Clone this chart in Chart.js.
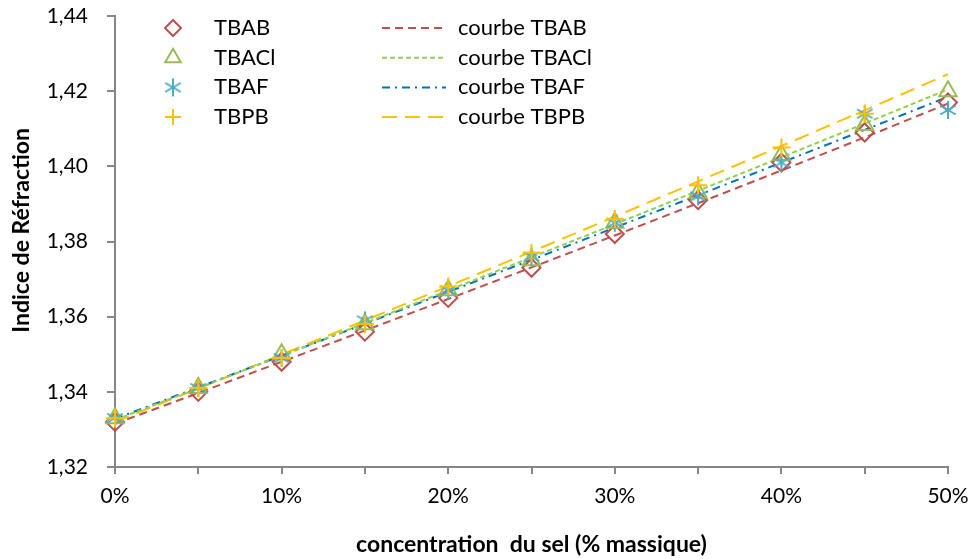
<!DOCTYPE html>
<html>
<head>
<meta charset="utf-8">
<script src="https://cdn.jsdelivr.net/npm/chart.js@4/dist/chart.umd.min.js"></script>
<style>
  body { margin: 0; background: #fff; }
</style>
</head>
<body>
<canvas id="chart" width="975" height="559"></canvas>
<script>
// concentration du sel (% massique)
const concentrations = [0, 5, 10, 15, 20, 25, 30, 35, 40, 45, 50];
const xTicks = [0, 10, 20, 30, 40, 50];

// mesures
const tbab  = [1.332, 1.340, 1.348, 1.356, 1.365, 1.373, 1.382, 1.391, 1.401, 1.409, 1.417];
const tbacl = [1.333, 1.341, 1.350, 1.358, 1.367, 1.375, 1.385, 1.393, 1.403, 1.411, 1.420];
const tbaf  = [1.333, 1.341, 1.349, 1.359, 1.367, 1.376, 1.385, 1.392, 1.401, 1.414, 1.415];
const tbpb  = [1.333, 1.341, 1.349, 1.358, 1.368, 1.377, 1.386, 1.395, 1.405, 1.414, null];

// courbes de tendance
const courbeTbab  = [1.3315, 1.3397, 1.3480, 1.3563, 1.3647, 1.3731, 1.3816, 1.3902, 1.3989, 1.4077, 1.4167];
const courbeTbacl = [1.3325, 1.3410, 1.3496, 1.3583, 1.3670, 1.3758, 1.3846, 1.3935, 1.4024, 1.4114, 1.4205];
const courbeTbaf  = [1.3328, 1.3412, 1.3496, 1.3581, 1.3666, 1.3751, 1.3837, 1.3923, 1.4010, 1.4097, 1.4185];
const courbeTbpb  = [1.3320, 1.3409, 1.3499, 1.3590, 1.3681, 1.3773, 1.3866, 1.3960, 1.4054, 1.4149, 1.4245];

const yTicks = [1.32, 1.34, 1.36, 1.38, 1.40, 1.42, 1.44];

const axisGrey = '#868686';
const fontFamily = 'Lato, "Liberation Sans", sans-serif';

const toPoints = arr => concentrations.map((c, i) => ({ x: c, y: arr[i] }));

// asterisk marker (vertical bar + X), like the spreadsheet one
function makeAsterisk(color, r) {
    const c = document.createElement('canvas');
    c.width = c.height = 2 * r + 4;
    const ctx = c.getContext('2d');
    ctx.strokeStyle = color;
    ctx.lineWidth = 2;
    const m = r + 2;
    [90, 30, 150].forEach(a => {
        const dx = Math.cos(a * Math.PI / 180) * r;
        const dy = Math.sin(a * Math.PI / 180) * r;
        ctx.beginPath();
        ctx.moveTo(m - dx, m - dy);
        ctx.lineTo(m + dx, m + dy);
        ctx.stroke();
    });
    return c;
}
const asterisk = makeAsterisk('#4BACC6', 9);

const markers = [
    { label: 'TBAB',  data: tbab,  color: '#C0504D', style: 'rectRot',  radius: 9 },
    { label: 'TBACl', data: tbacl, color: '#9BBB59', style: 'triangle', radius: 10 },
    { label: 'TBAF',  data: tbaf,  color: '#4BACC6', style: asterisk,   radius: 9 },
    { label: 'TBPB',  data: tbpb,  color: '#FFC000', style: 'cross',    radius: 9 }
];
const curves = [
    { label: 'courbe TBAB',  data: courbeTbab,  color: '#C0504D', dash: [8, 5] },
    { label: 'courbe TBACl', data: courbeTbacl, color: '#92D050', dash: [5, 3] },
    { label: 'courbe TBAF',  data: courbeTbaf,  color: '#0070C0', dash: [8, 5, 2, 5] },
    { label: 'courbe TBPB',  data: courbeTbpb,  color: '#FFC000', dash: [15, 8] }
];

const datasets = [];
markers.forEach((m, i) => datasets.push({
    label: m.label,
    data: toPoints(m.data),
    showLine: false,
    pointStyle: m.style,
    pointRadius: m.radius,
    pointBorderWidth: 2,
    pointBorderColor: m.color,
    pointBackgroundColor: 'rgba(0,0,0,0)',
    borderColor: m.color,
    order: 3 - i,
    clip: false
}));
curves.forEach(c => datasets.push({
    label: c.label,
    data: toPoints(c.data),
    borderColor: c.color,
    borderWidth: 2,
    borderDash: c.dash,
    pointRadius: 0,
    order: 10,
    clip: false
}));

// legend in two columns, markers on the left, curves on the right
const legendPlugin = {
    id: 'twoColLegend',
    afterDraw(chart) {
        const ctx = chart.ctx;
        ctx.save();
        ctx.font = '22px ' + fontFamily;
        ctx.textBaseline = 'middle';
        ctx.textAlign = 'left';
        markers.forEach((m, i) => {
            const y = 28 + i * 29.7;
            ctx.strokeStyle = m.color;
            ctx.fillStyle = 'rgba(0,0,0,0)';
            ctx.lineWidth = 2;
            Chart.helpers.drawPoint(ctx, { pointStyle: m.style, radius: m.radius - 1, borderWidth: 2, rotation: 0 }, 173, y);
            ctx.fillStyle = '#000';
            ctx.fillText(m.label, 214, y);
        });
        curves.forEach((c, i) => {
            const y = 28 + i * 29.7;
            ctx.strokeStyle = c.color;
            ctx.lineWidth = 2;
            ctx.setLineDash(c.dash);
            ctx.beginPath();
            ctx.moveTo(382, y);
            ctx.lineTo(446, y);
            ctx.stroke();
            ctx.setLineDash([]);
            ctx.fillStyle = '#000';
            ctx.fillText(c.label, 458, y);
        });
        ctx.restore();
    }
};

Chart.defaults.color = '#000';
Chart.defaults.font.family = fontFamily;

new Chart(document.getElementById('chart'), {
    type: 'line',
    data: { datasets: datasets },
    plugins: [legendPlugin],
    options: {
        responsive: false,
        animation: false,
        layout: { autoPadding: false, padding: { top: 16, right: 27, left: 0, bottom: 0 } },
        plugins: {
            legend: { display: false },
            tooltip: { enabled: false }
        },
        scales: {
            x: {
                type: 'linear',
                min: 0,
                max: 50,
                afterFit(scale) {
                    scale.height = 92;
                    scale.paddingLeft = 0;
                    scale.paddingRight = 0;
                },
                afterBuildTicks(scale) {
                    scale.ticks = concentrations.map(v => ({ value: v }));
                },
                ticks: {
                    autoSkip: false,
                    maxRotation: 0,
                    padding: 10,
                    font: { size: 21 },
                    callback: v => xTicks.includes(v) ? v + '%' : ''
                },
                grid: { drawOnChartArea: false, drawTicks: true, tickLength: 7, color: axisGrey, lineWidth: 2 },
                border: { color: axisGrey, width: 2 },
                title: {
                    display: true,
                    text: 'concentration  du sel (% massique)',
                    font: { size: 23, weight: 'bold' },
                    padding: { top: 0, bottom: 1 }
                }
            },
            y: {
                min: 1.32,
                max: 1.44,
                afterFit(scale) {
                    scale.width = 115;
                    scale.paddingTop = 0;
                    scale.paddingBottom = 0;
                },
                afterBuildTicks(scale) {
                    scale.ticks = yTicks.map(v => ({ value: v }));
                },
                ticks: {
                    padding: 19,
                    font: { size: 21 },
                    callback: v => v.toFixed(2).replace('.', ',')
                },
                grid: { drawOnChartArea: false, drawTicks: true, tickLength: 8, color: axisGrey, lineWidth: 2 },
                border: { color: axisGrey, width: 2 },
                title: {
                    display: true,
                    text: '    Indice de Réfraction',
                    font: { size: 23, weight: 'bold' },
                    padding: { top: 8, bottom: 0 }
                }
            }
        }
    }
});
</script>
</body>
</html>
